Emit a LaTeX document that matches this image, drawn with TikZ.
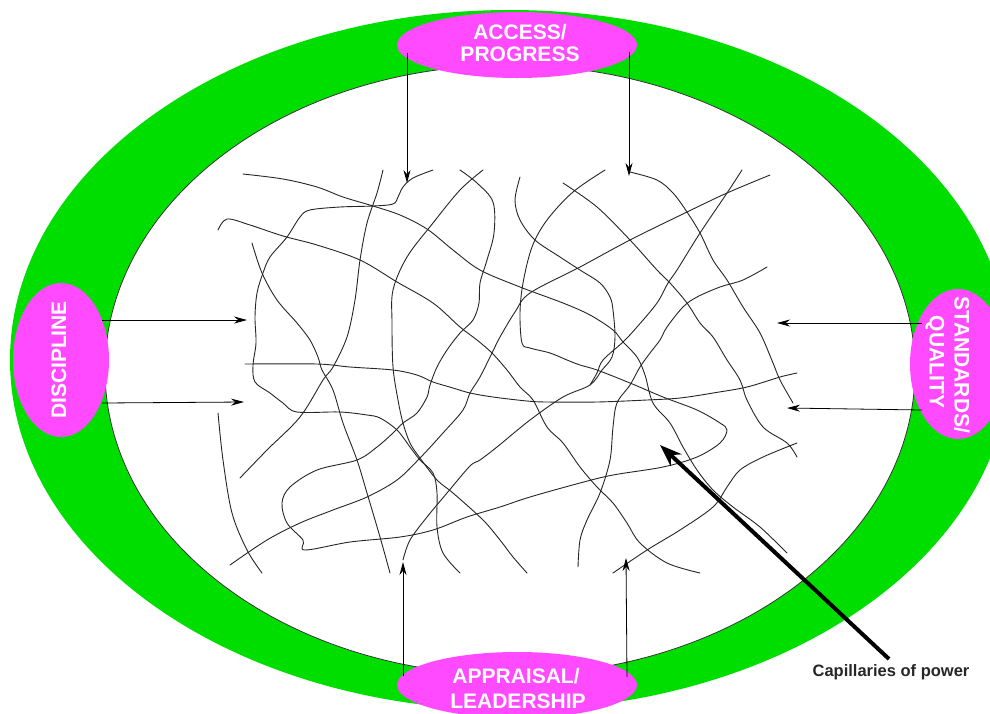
\documentclass[tikz,border=0pt]{standalone}
\usepackage{fontspec}
\setmainfont{Liberation Sans}
\usetikzlibrary{arrows.meta,shapes.geometric}
\definecolor{ringgreen}{RGB}{0,222,0}
\definecolor{pinkfill}{RGB}{255,74,255}
\begin{document}
\begin{tikzpicture}[x=1pt,y=-1pt,
  capline/.style={line width=0.9pt, black!85, line join=round, line cap=round},
  thinarrow/.style={line width=0.8pt, black, -{Stealth[length=13pt,width=7pt]}},
  bigarrow/.style={line width=4pt, black, -{Stealth[length=22pt,width=16pt]}},
  pinkbox/.style={ellipse, fill=pinkfill, draw=none, inner sep=0pt},
  labeltext/.style={text=white, font=\bfseries\fontsize{21}{22}\selectfont, inner sep=0pt},
  smoothplot/.style={smooth, tension=0.55}
]
\useasboundingbox (0,0) rectangle (990,713);
\clip (0,0) rectangle (990,713);
% ring
\fill[ringgreen] (510,360) ellipse [x radius=500, y radius=350];
\filldraw[fill=white, draw=black!80, line width=0.8pt] (510,370) ellipse [x radius=405, y radius=305];

% capillaries
\draw[capline] plot[smoothplot] coordinates {(243,174) (283,179) (317,187) (343,197) (373,206) (400,215) (427,229) (453,250) (480,270) (520,287) (563,303) (590,315) (613,330) (623,342) (637,357) (645,375) (653,403) (670,423) (683,447) (697,470) (713,490) (733,507) (760,527) (787,553)};
\draw[capline] plot[smoothplot] coordinates {(433,170) (413,178) (403,187) (398,197) (393,204) (373,206) (340,207) (310,210) (300,217) (287,237) (270,257) (263,273) (257,293) (255,317) (256,343) (253,365) (255,382) (270,393) (283,403) (297,412) (340,412) (367,415) (380,418) (397,430) (410,447) (420,460) (433,473) (437,493) (437,527) (443,553) (460,573)};
\draw[capline] plot[smoothplot] coordinates {(218,230) (227,219) (250,225) (283,236) (317,245) (360,260) (397,282) (433,303) (460,327) (477,340) (492,353) (507,370) (520,387) (533,400) (547,427) (563,443) (580,467) (597,487) (613,503) (627,523) (640,543) (667,563) (700,573)};
\draw[capline] plot[smoothplot] coordinates {(252,243) (262,273) (277,300) (297,323) (310,340) (318,357) (322,370) (333,390) (343,423) (357,460) (367,493) (380,537) (390,573)};
\draw[capline] plot[smoothplot] coordinates {(383,170) (377,193) (367,223) (360,260) (355,300) (347,337) (333,367) (323,380) (300,417) (267,450) (240,478)};
\draw[capline] plot[smoothplot] coordinates {(483,170) (460,190) (433,223) (407,257) (393,290) (392,323) (393,367) (398,400) (403,423) (410,443) (420,458) (437,480) (453,493) (483,520) (500,540) (513,557) (527,573)};
\draw[capline] plot[smoothplot] coordinates {(460,170) (477,183) (493,202) (494,233) (487,260) (480,283) (479,303) (473,320) (460,333) (447,350) (437,367) (430,385) (427,397) (417,413) (403,423) (393,433) (377,447) (357,460) (317,470) (290,487) (282,503) (287,523) (303,540) (305,550) (350,542) (400,537) (433,530) (467,517) (500,507) (530,497) (580,483) (613,475) (663,467) (697,457) (720,443) (727,430) (720,423) (697,410) (663,397) (630,383) (597,370) (580,365) (567,360) (550,353) (530,348) (522,343) (520,313) (523,283) (532,247) (547,220) (573,192) (605,170)};
\draw[capline] plot[smoothplot] coordinates {(520,177) (515,200) (520,220) (535,240) (560,257) (580,270) (600,283) (610,297) (613,310) (615,337) (612,357) (602,370) (590,385) (563,397) (530,420) (497,447) (480,460) (470,466) (447,493) (427,517) (410,540) (403,560)};
\draw[capline] plot[smoothplot] coordinates {(742,170) (727,193) (700,233) (677,270) (668,283) (657,303) (637,327) (623,342) (603,360) (597,373) (590,385)};
\draw[capline] plot[smoothplot] coordinates {(767,267) (743,280) (720,287) (697,297) (683,307) (667,327) (660,340) (650,353) (640,367) (630,385) (617,403) (613,427) (610,460) (600,493) (587,520) (580,540) (578,567)};
\draw[capline] plot[smoothplot] coordinates {(563,183) (597,207) (630,240) (657,270) (670,283) (687,303) (700,323) (713,337) (727,360) (740,380) (747,400) (763,427) (787,443) (797,457)};
\draw[capline] plot[smoothplot] coordinates {(630,172) (657,180) (673,193) (687,212) (700,233) (713,260) (727,280) (743,307) (760,333) (773,363) (780,380) (793,403)};
\draw[capline] plot[smoothplot] coordinates {(770,175) (727,193) (687,212) (630,240) (580,267) (530,293) (515,312) (500,337) (492,353) (480,377) (470,393) (463,410) (443,433) (420,458) (397,480) (367,497) (333,510) (300,523) (267,540) (230,565)};
\draw[capline] plot[smoothplot] coordinates {(245,364) (317,364) (350,367) (393,370) (417,375) (433,382) (453,388) (470,393) (493,397) (527,401) (547,402) (597,402) (647,400) (680,398) (713,393) (747,387) (780,377) (797,373)};
\draw[capline] plot[smoothplot] coordinates {(218,413) (223,460) (232,513) (247,550) (262,573)};
\draw[capline] plot[smoothplot] coordinates {(797,443) (763,457) (740,470) (727,487) (713,507) (680,530) (647,550) (613,573)};

% pink ellipses
\node[pinkbox, minimum width=240pt, minimum height=66pt] (access) at (517,45) {};
\node[pinkbox, minimum width=96pt, minimum height=154pt] (discipline) at (61,360) {};
\node[pinkbox, minimum width=96pt, minimum height=150pt] (standards) at (958,364) {};
\node[pinkbox, minimum width=240pt, minimum height=66pt] (appraisal) at (517,685) {};

\node[labeltext] (accessA) at (520,32) {ACCESS/};
\node[labeltext] (accessB) at (520,54) {PROGRESS};
\node[labeltext, rotate=90] (disciplineT) at (59,360) {DISCIPLINE};
\node[labeltext, rotate=-90] (standardsA) at (962,365) {STANDARDS/};
\node[labeltext, rotate=-90] (standardsB) at (935,362) {QUALITY};
\node[labeltext] (appraisalA) at (516,676) {APPRAISAL/};
\node[labeltext] (appraisalB) at (518,701) {LEADERSHIP};

% arrow end points
\coordinate (sT1) at (407,53);   \coordinate (eT1) at (407,183);
\coordinate (sT2) at (629,52);   \coordinate (eT2) at (629,176);
\coordinate (sL1) at (102,320);  \coordinate (eL1) at (247,320);
\coordinate (sL2) at (102,403);  \coordinate (eL2) at (244,402);
\coordinate (sR1) at (922,323);  \coordinate (eR1) at (777,323);
\coordinate (sR2) at (922,410);  \coordinate (eR2) at (787,408);
\coordinate (sB1) at (403,676);  \coordinate (eB1) at (403,562);
\coordinate (sB2) at (627,677);  \coordinate (eB2) at (626,558);

\draw[thinarrow] (sT1) -- (eT1);
\draw[thinarrow] (sT2) -- (eT2);
\draw[thinarrow] (sL1) -- (eL1);
\draw[thinarrow] (sL2) -- (eL2);
\draw[thinarrow] (sR1) -- (eR1);
\draw[thinarrow] (sR2) -- (eR2);
\draw[thinarrow] (sB1) -- (eB1);
\draw[thinarrow] (sB2) -- (eB2);

% capillaries label and big arrow
\node[text=black!85, font=\bfseries\fontsize{16.5}{18}\selectfont, inner sep=0pt] (caplabel) at (891,672) {Capillaries of power};
\coordinate (capTail) at (889,659);
\coordinate (capTip) at (660,445);
\draw[bigarrow] (capTail) -- (capTip);
\end{tikzpicture}
\end{document}
